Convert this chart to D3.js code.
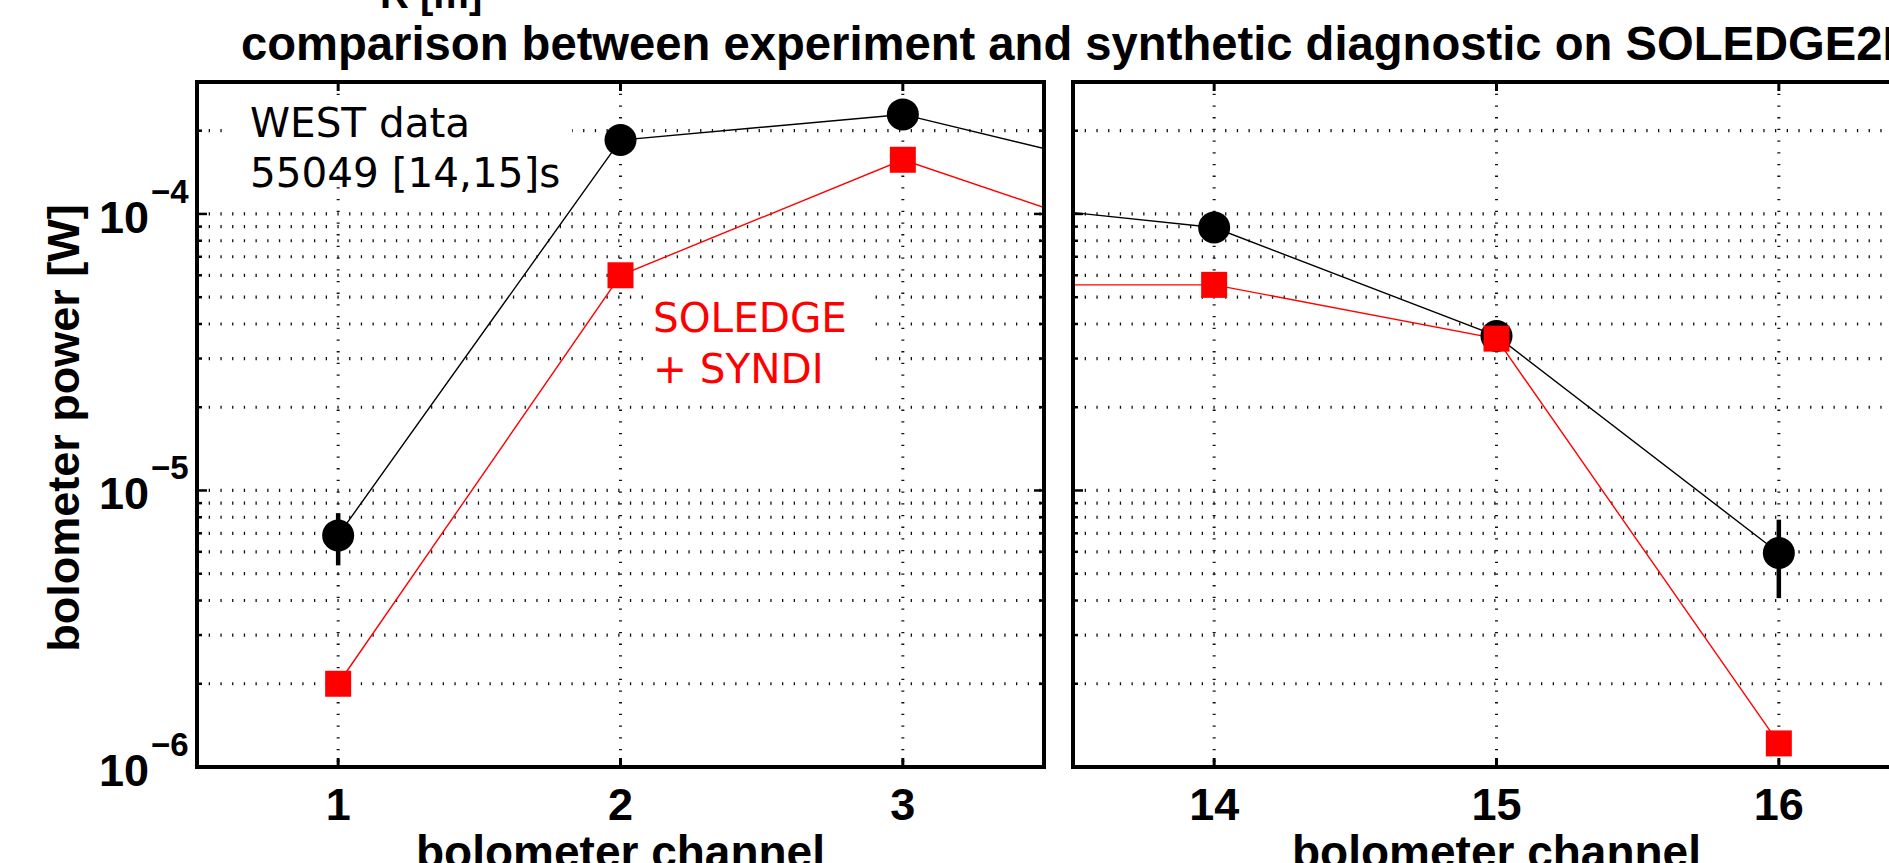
<!DOCTYPE html>
<html>
  <head>
    <title>Bolometer comparison</title>
    <meta charset="utf-8" />
    <style>
      body {
        margin: 0;
        background: #fff;
      }
      svg {
        display: block;
      }
    </style>
    <script src="https://d3js.org/d3.v7.min.js"></script>
  </head>
  <body>
    <div id="chart"></div>

    <script type="text/javascript">
      // channels 4 and 13 are off-axis, only the line segments crossing the break show them
      var channels = [1, 2, 3, 4, 13, 14, 15, 16];
      var westPower = [6.88e-6, 1.85e-4, 2.29e-4, 1.3e-4, 1.145e-4, 8.93e-5, 3.62e-5, 5.94e-6];
      var westLow = [5.36e-6, 1.7e-4, 2.12e-4, null, null, 8.3e-5, 3.35e-5, 4.08e-6];
      var westHigh = [8.28e-6, 2.0e-4, 2.45e-4, null, null, 9.6e-5, 3.9e-5, 7.84e-6];
      var soledgePower = [2.0e-6, 6.0e-5, 1.57e-4, 7.1e-5, 5.54e-5, 5.54e-5, 3.54e-5, 1.217e-6];

      var leftTicks = [1, 2, 3];
      var rightTicks = [14, 15, 16];
      var yMajor = [1e-6, 1e-5, 1e-4];
      var yMajorExp = ["\u22126", "\u22125", "\u22124"];

      var titleText = "comparison between experiment and synthetic diagnostic on SOLEDGE2D";
      var xLabelText = "bolometer channel";
      var yLabelText = "bolometer power [W]";
      var westText = ["WEST data", "55049 [14,15]s"];
      var soledgeText = ["SOLEDGE", "+ SYNDI"];

      //Width and height
      var w = 1889;
      var h = 863;
      var plotTop = 82;
      var plotBottom = 767;
      var panelW = 847;
      var bold = "'Liberation Sans', Arial, sans-serif";
      var plain = "'DejaVu Sans', Verdana, sans-serif";

      var rows = channels.map(function (c, i) {
        return {
          ch: c,
          west: westPower[i],
          lo: westLow[i],
          hi: westHigh[i],
          sol: soledgePower[i],
        };
      });

      var y = d3.scaleLog().domain([1e-6, 3e-4]).range([plotBottom, plotTop]);

      var svg = d3
        .select("#chart")
        .append("svg")
        .attr("width", w)
        .attr("height", h);

      // leftover label from the figure above
      svg
        .append("text")
        .attr("x", 380)
        .attr("y", 8)
        .attr("font-family", bold)
        .attr("font-weight", "bold")
        .attr("font-size", 40)
        .text("R [m]");

      svg
        .append("text")
        .attr("x", 241)
        .attr("y", 60)
        .attr("font-family", bold)
        .attr("font-weight", "bold")
        .attr("font-size", 47.2)
        .text(titleText);

      svg
        .append("text")
        .attr("transform", "translate(79,428)rotate(-90)")
        .attr("text-anchor", "middle")
        .attr("font-family", bold)
        .attr("font-weight", "bold")
        .attr("font-size", 45)
        .text(yLabelText);

      var panels = [
        { x0: 197, domain: [0.5, 3.5], ticks: leftTicks, id: "clipL" },
        { x0: 1073, domain: [13.5, 16.5], ticks: rightTicks, id: "clipR" },
      ];

      panels.forEach(function (p, pi) {
        var x = d3
          .scaleLinear()
          .domain(p.domain)
          .range([p.x0, p.x0 + panelW]);
        var g = svg.append("g");

        g.append("clipPath")
          .attr("id", p.id)
          .append("rect")
          .attr("x", p.x0)
          .attr("y", plotTop)
          .attr("width", panelW)
          .attr("height", plotBottom - plotTop);

        // horizontal grid at every log tick
        g.selectAll(".hgrid")
          .data(y.ticks())
          .enter()
          .append("line")
          .attr("x1", p.x0)
          .attr("x2", p.x0 + panelW)
          .attr("y1", function (d) { return y(d); })
          .attr("y2", function (d) { return y(d); })
          .attr("stroke", "#111")
          .attr("stroke-width", 3.2)
          .attr("stroke-dasharray", "1.3,10.4");

        g.selectAll(".vgrid")
          .data(p.ticks)
          .enter()
          .append("line")
          .attr("x1", function (d) { return x(d); })
          .attr("x2", function (d) { return x(d); })
          .attr("y1", plotTop)
          .attr("y2", plotBottom)
          .attr("stroke", "#111")
          .attr("stroke-width", 3)
          .attr("stroke-dasharray", "1.3,10.4");

        // text boxes with white background (left panel only)
        if (pi === 0) {
          g.append("rect")
            .attr("x", 222)
            .attr("y", 97)
            .attr("width", 350)
            .attr("height", 62)
            .attr("fill", "#fff");
          g.append("rect")
            .attr("x", 647)
            .attr("y", 284)
            .attr("width", 221)
            .attr("height", 111)
            .attr("fill", "#fff");

          g.selectAll(".west")
            .data(westText)
            .enter()
            .append("text")
            .attr("x", 250)
            .attr("y", function (d, i) { return 137 + i * 50; })
            .attr("font-family", plain)
            .attr("font-size", 40.5)
            .attr("fill", "#000")
            .text(function (d) { return d; });

          g.selectAll(".sol")
            .data(soledgeText)
            .enter()
            .append("text")
            .attr("x", 653)
            .attr("y", function (d, i) { return 332 + i * 51; })
            .attr("font-family", plain)
            .attr("font-size", 40.5)
            .attr("fill", "#ff0000")
            .text(function (d) { return d; });
        }

        var plot = g.append("g").attr("clip-path", "url(#" + p.id + ")");

        var westLine = d3
          .line()
          .x(function (d) { return x(d.ch); })
          .y(function (d) { return y(d.west); });
        var solLine = d3
          .line()
          .x(function (d) { return x(d.ch); })
          .y(function (d) { return y(d.sol); });

        plot.append("path")
          .attr("d", westLine(rows))
          .attr("fill", "none")
          .attr("stroke", "#000")
          .attr("stroke-width", 1.4);

        plot.append("path")
          .attr("d", solLine(rows))
          .attr("fill", "none")
          .attr("stroke", "#ff0000")
          .attr("stroke-width", 1.4);

        // error bars
        plot.selectAll(".err")
          .data(rows.filter(function (d) { return d.lo !== null; }))
          .enter()
          .append("line")
          .attr("x1", function (d) { return x(d.ch); })
          .attr("x2", function (d) { return x(d.ch); })
          .attr("y1", function (d) { return y(d.lo); })
          .attr("y2", function (d) { return y(d.hi); })
          .attr("stroke", "#000")
          .attr("stroke-width", 4.5);

        plot.selectAll(".dot")
          .data(rows)
          .enter()
          .append("circle")
          .attr("cx", function (d) { return x(d.ch); })
          .attr("cy", function (d) { return y(d.west); })
          .attr("r", 16)
          .attr("fill", "#000");

        plot.selectAll(".sq")
          .data(rows)
          .enter()
          .append("rect")
          .attr("x", function (d) { return x(d.ch) - 13; })
          .attr("y", function (d) { return y(d.sol) - 13; })
          .attr("width", 26)
          .attr("height", 26)
          .attr("fill", "#ff0000");

        // box
        g.append("rect")
          .attr("x", p.x0)
          .attr("y", plotTop)
          .attr("width", panelW)
          .attr("height", plotBottom - plotTop)
          .attr("fill", "none")
          .attr("stroke", "#000")
          .attr("stroke-width", 4);

        // x ticks, inward on top and bottom
        p.ticks.forEach(function (t) {
          g.append("line")
            .attr("x1", x(t)).attr("x2", x(t))
            .attr("y1", plotBottom).attr("y2", plotBottom - 9)
            .attr("stroke", "#000").attr("stroke-width", 3);
          g.append("line")
            .attr("x1", x(t)).attr("x2", x(t))
            .attr("y1", plotTop).attr("y2", plotTop + 9)
            .attr("stroke", "#000").attr("stroke-width", 3);
        });

        // y ticks, inward on both sides
        y.ticks().forEach(function (v) {
          var len = yMajor.indexOf(v) >= 0 ? 10 : 5;
          [p.x0, p.x0 + panelW].forEach(function (edge, k) {
            var dir = k === 0 ? 1 : -1;
            g.append("line")
              .attr("x1", edge).attr("x2", edge + dir * len)
              .attr("y1", y(v)).attr("y2", y(v))
              .attr("stroke", "#000").attr("stroke-width", 2.5);
          });
        });

        g.selectAll(".xlab")
          .data(p.ticks)
          .enter()
          .append("text")
          .attr("x", function (d) { return x(d); })
          .attr("y", 820)
          .attr("text-anchor", "middle")
          .attr("font-family", bold)
          .attr("font-weight", "bold")
          .attr("font-size", 45)
          .text(function (d) { return d; });

        g.append("text")
          .attr("x", x(p.ticks[1]))
          .attr("y", 868)
          .attr("text-anchor", "middle")
          .attr("font-family", bold)
          .attr("font-weight", "bold")
          .attr("font-size", 46)
          .text(xLabelText);

        if (pi === 0) {
          var ylab = g.selectAll(".ylab")
            .data(yMajor)
            .enter()
            .append("g");
          ylab.append("text")
            .attr("x", 149)
            .attr("y", function (d) { return y(d) + 19; })
            .attr("text-anchor", "end")
            .attr("font-family", bold)
            .attr("font-weight", "bold")
            .attr("font-size", 45)
            .text("10");
          ylab.append("text")
            .attr("x", 151)
            .attr("y", function (d) { return y(d) - 11; })
            .attr("font-family", bold)
            .attr("font-weight", "bold")
            .attr("font-size", 33)
            .text(function (d, i) { return yMajorExp[i]; });
        }
      });
    </script>
  </body>
</html>
